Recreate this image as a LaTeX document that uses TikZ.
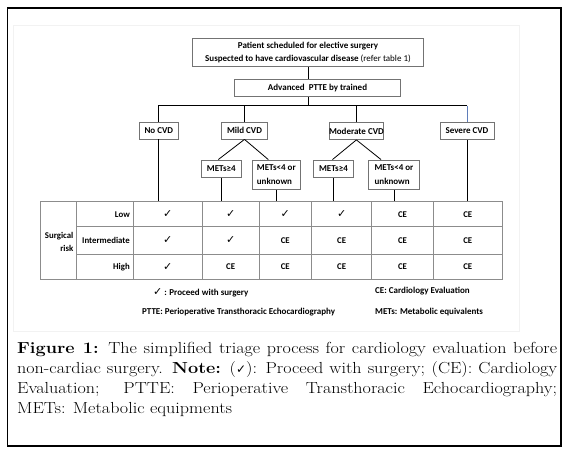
\documentclass[tikz,border=0pt]{standalone}
\usepackage{fontspec}
\newfontfamily\boxfont{Carlito}
\newfontfamily\symfont{DejaVu Sans}
\newfontfamily\capfont{Latin Modern Roman}[FakeStretch=1.13]
\usetikzlibrary{calc}
\definecolor{busblue}{RGB}{95,125,185}
\newcommand{\chk}{{\symfont\fontsize{11}{12}\selectfont ✓}}
\tikzset{
  box/.style={draw=black!55, line width=0.8pt, fill=white, inner sep=0pt,
    align=center, font=\boxfont\bfseries\fontsize{9}{13.3}\selectfont},
  link/.style={line width=0.8pt},
  grid/.style={draw=black!45, line width=0.9pt},
  cell/.style={inner sep=0pt, font=\boxfont\bfseries\fontsize{8.8}{10}\selectfont},
  legend/.style={inner sep=0pt, anchor=base west, font=\boxfont\bfseries\fontsize{9}{11}\selectfont}
}

\begin{document}
\begin{tikzpicture}[x=1pt,y=-1pt]
    \useasboundingbox (0,0) rectangle (571,455);
    % frames
    \draw[line width=1.1pt] (7.5,8) rectangle (561,446);
    \draw[gray!10, line width=0.8pt] (13,25) rectangle (519,331);

    % top of the tree
    \node[box, minimum width=231pt, minimum height=28.4pt] (patient) at (308,52.5)
        {Patient scheduled for elective surgery\\
         Suspected to have cardiovascular disease {\mdseries(refer table 1)}};
    \node[box, minimum width=166.4pt, minimum height=17.4pt] (ptte) at (317.5,88)
        {Advanced\ \ PTTE by trained};
    \coordinate (bus) at (308,105.5);

    % CVD grades
    \node[box, minimum width=39pt, minimum height=17pt] (nocvd) at (158.8,130.5) {No CVD};
    \node[box, minimum width=46pt, minimum height=17pt] (mild) at (244.5,130.5) {Mild CVD};
    \node[box, minimum width=54pt, minimum height=17pt] (moderate) at (356.4,131) {Moderate CVD};
    \node[box, minimum width=54pt, minimum height=17pt] (severe) at (467,131) {Severe CVD};

    % METs boxes
    \node[box, minimum width=39.3pt, minimum height=17.7pt] (metsA) at (221.3,168.8) {METs≥4};
    \node[box, align=left, minimum width=47.3pt, minimum height=29.3pt] (metsB) at (276.3,174.6) {METs<4 or\\unknown};
    \node[box, minimum width=40pt, minimum height=17.7pt] (metsC) at (333.5,168.8) {METs≥4};
    \node[box, align=left, minimum width=50.6pt, minimum height=29.3pt] (metsD) at (394,174.6) {METs<4 or\\unknown};

    % connectors
    \draw[link] (patient.south) -- (patient.south |- ptte.north);
    \draw[link] (bus |- ptte.south) -- (bus);
    \draw[link] (nocvd.north) |- (severe.north |- bus);
    \draw[link, busblue] (severe.north |- bus) -- (severe.north);
    \draw[link] (mild.north) -- (mild.north |- bus);
    \draw[link] (moderate.north) -- (moderate.north |- bus);
    \draw[link] (mild.south) -- ([xshift=-3pt]metsA.north);
    \draw[link] (mild.south) -- ([xshift=-8pt]metsB.north);
    \draw[link] (moderate.south) -- ([xshift=-1pt]metsC.north);
    \draw[link] (moderate.south) -- ([xshift=-13pt]metsD.north);

    % table
    \coordinate (tabNW) at (40,201.7);
    \coordinate (tabSE) at (502.3,279.3);
    \foreach \n in {nocvd, metsA, metsB, metsC, metsD, severe}
        \draw[link] (\n.south) -- (\n.south |- tabNW);
    \draw[grid] (tabNW) rectangle (tabSE);
    \foreach \x in {76.7, 133.3, 202.3, 259, 311.7, 371.7, 433.3}
        \draw[grid] (\x,201.7) -- (\x,279.3);
    \foreach \y in {226.7, 254.3}
        \draw[grid] (76.7,\y) -- (502.3,\y);

    % cell centres
    \foreach \x [count=\c] in {167.8, 230.7, 285.3, 341.7, 402.5, 467.8}
        \coordinate (c\c) at (\x,0);
    \foreach \y [count=\r] in {214.2, 240.5, 266.8}
        \coordinate (r\r) at (130,\y);

    \node[cell, align=right, anchor=east, font=\boxfont\bfseries\fontsize{8.8}{13.3}\selectfont] (risk) at (73.5,241.7) {Surgical\\risk};
    \foreach \lab/\vals [count=\r] in {Low/{\chk,\chk,\chk,\chk,CE,CE},
                                       Intermediate/{\chk,\chk,CE,CE,CE,CE},
                                       High/{\chk,CE,CE,CE,CE,CE}}{
        \node[cell, anchor=east] (lab\r) at (r\r) {\lab};
        \foreach \v [count=\c] in \vals
            \node[cell] (cell\r\c) at (c\c |- r\r) {\v};
    }

    % legend
    \node[legend] (chkkey) at (152.8,295) {\chk\ : Proceed with surgery};
    \node[legend] (ptkey) at (142,314.5) {PTTE: Perioperative Transthoracic Echocardiography};
    \node[legend] (cekey) at (375,293) {CE: Cardiology Evaluation};
    \node[legend] (metkey) at (375,314.5) {METs: Metabolic equivalents};

    % caption
    \node[inner sep=0pt, anchor=base west, text width=540pt, align=justify,
          font=\capfont\fontsize{16}{20.2}\selectfont] (caption) at (17,353)
        {\textbf{Figure 1:} The simplified triage process for cardiology evaluation before\linebreak
         non-cardiac surgery. \textbf{Note:} ({\symfont\fontsize{12}{16}\selectfont ✓}): Proceed with surgery; (CE): Cardiology\linebreak
         Evaluation; PTTE: Perioperative Transthoracic Echocardiography;\linebreak
         METs: Metabolic equipments};
\end{tikzpicture}
\end{document}
